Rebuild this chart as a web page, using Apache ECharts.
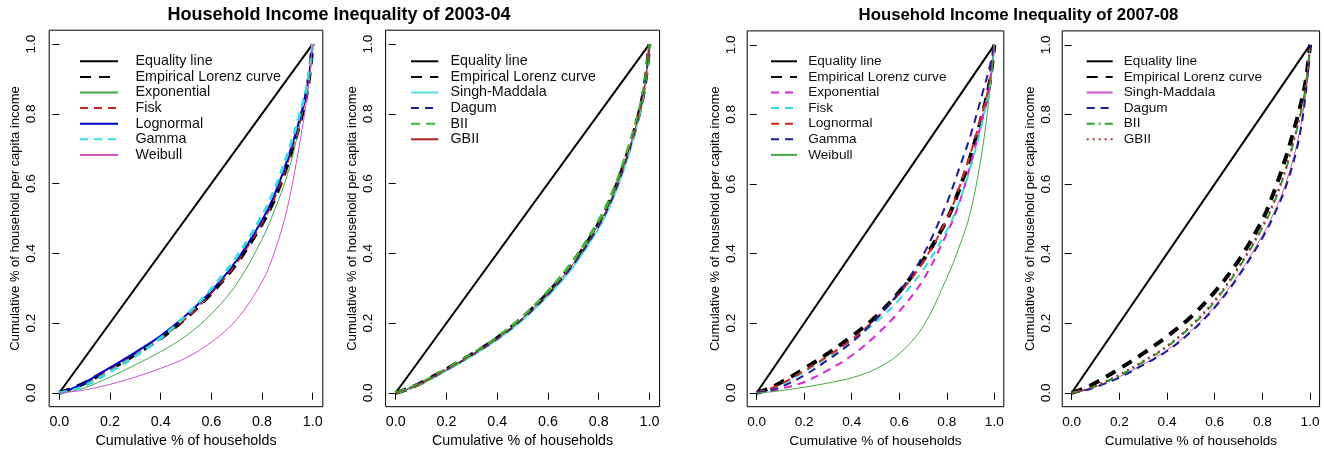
<!DOCTYPE html>
<html><head><meta charset="utf-8">
<script src="https://cdn.jsdelivr.net/npm/echarts@6/dist/echarts.min.js"></script>
<style>html,body{margin:0;padding:0;background:#fff}#c{width:1324px;height:453px}</style>
</head><body><div id="c"></div>
<script>
// ---------- data ----------
const xs = [0, 0.05, 0.1, 0.2, 0.3, 0.4, 0.5, 0.6, 0.7, 0.8, 0.85, 0.9, 0.95, 0.98, 1];
const tickValues = [0, 0.2, 0.4, 0.6, 0.8, 1.0];
const titles = ['Household Income Inequality of 2003-04', 'Household Income Inequality of 2007-08'];
const xTitle = 'Cumulative % of households';
const yTitle = 'Cumulative % of household per capita income';
const equalityX = [0, 1];
const equalityY = [0, 1];

// 2003-04
const empirical0304   = [0, 0.012, 0.028, 0.068, 0.110, 0.157, 0.215, 0.286, 0.372, 0.485, 0.558, 0.655, 0.775, 0.875, 1];
const exponential0304 = [0, 0.005, 0.014, 0.045, 0.080, 0.118, 0.163, 0.226, 0.312, 0.440, 0.525, 0.625, 0.770, 0.885, 1];
const fisk0304        = [0, 0.011, 0.027, 0.067, 0.109, 0.156, 0.214, 0.286, 0.373, 0.487, 0.560, 0.658, 0.778, 0.878, 1];
const lognormal0304   = [0, 0.012, 0.029, 0.072, 0.116, 0.163, 0.222, 0.292, 0.380, 0.495, 0.570, 0.668, 0.788, 0.882, 1];
const gamma0304       = [0, 0.007, 0.020, 0.060, 0.105, 0.157, 0.222, 0.298, 0.390, 0.508, 0.585, 0.683, 0.802, 0.890, 1];
const weibull0304     = [0, 0.003, 0.008, 0.024, 0.045, 0.070, 0.100, 0.145, 0.210, 0.318, 0.405, 0.530, 0.720, 0.860, 1];
const singh0304       = [0, 0.011, 0.026, 0.064, 0.106, 0.152, 0.209, 0.278, 0.362, 0.472, 0.545, 0.642, 0.765, 0.868, 1];
const dagum0304       = [0, 0.011, 0.027, 0.066, 0.108, 0.155, 0.212, 0.282, 0.368, 0.479, 0.552, 0.650, 0.772, 0.872, 1];
const bii0304         = [0, 0.012, 0.028, 0.068, 0.111, 0.159, 0.218, 0.291, 0.380, 0.494, 0.568, 0.665, 0.785, 0.880, 1];
const gbii0304        = [0, 0.011, 0.027, 0.067, 0.109, 0.156, 0.214, 0.285, 0.371, 0.483, 0.556, 0.654, 0.775, 0.874, 1];

// 2007-08
const empirical0708   = [0, 0.012, 0.029, 0.069, 0.113, 0.162, 0.218, 0.290, 0.380, 0.497, 0.580, 0.680, 0.800, 0.890, 1];
const exponential0708 = [0, 0.004, 0.011, 0.031, 0.065, 0.107, 0.164, 0.234, 0.324, 0.457, 0.540, 0.655, 0.790, 0.885, 1];
const fisk0708        = [0, 0.009, 0.022, 0.060, 0.103, 0.150, 0.202, 0.268, 0.353, 0.466, 0.545, 0.648, 0.780, 0.880, 1];
const lognormal0708   = [0, 0.010, 0.025, 0.063, 0.106, 0.153, 0.212, 0.285, 0.376, 0.498, 0.585, 0.688, 0.805, 0.892, 1];
const gamma0708       = [0, 0.006, 0.016, 0.050, 0.095, 0.145, 0.210, 0.290, 0.395, 0.545, 0.640, 0.740, 0.860, 0.935, 1];
const weibull0708     = [0, 0.002, 0.006, 0.016, 0.028, 0.043, 0.068, 0.112, 0.190, 0.330, 0.415, 0.520, 0.700, 0.860, 1];
const singh0708       = [0, 0.006, 0.017, 0.046, 0.082, 0.123, 0.178, 0.249, 0.340, 0.452, 0.520, 0.605, 0.730, 0.855, 1];
const dagum0708       = [0, 0.006, 0.016, 0.044, 0.080, 0.120, 0.175, 0.245, 0.335, 0.445, 0.512, 0.595, 0.718, 0.848, 1];
const bii0708         = [0, 0.007, 0.019, 0.050, 0.089, 0.132, 0.190, 0.262, 0.358, 0.474, 0.548, 0.645, 0.772, 0.872, 1];
const gbii0708        = [0, 0.008, 0.020, 0.052, 0.091, 0.135, 0.193, 0.266, 0.362, 0.479, 0.553, 0.650, 0.776, 0.875, 1];

// ---------- panels ----------
const FONT = '"Liberation Sans", Arial, Helvetica, sans-serif';
const eq = {label: 'Equality line', x: equalityX, y: equalityY, color: '#000', width: 2, dash: 'solid'};
function emp(y) { return {label: 'Empirical Lorenz curve', y: y, color: '#000', width: 4, dash: [11, 8]}; }

const panels = [
  {grid: {left: 49.2, top: 30.2, width: 273.6, height: 381.2}, fs: 14.3, yMargin: 10.5, yGap: 27,
   legend: {left: 79, top: 54.3, w: 38, pad: 12.5},
   lines: [eq, emp(empirical0304),
     {label: 'Exponential', y: exponential0304, color: '#44aa44', width: 1, dash: 'solid'},
     {label: 'Fisk', y: fisk0304, color: '#cc2222', width: 2, dash: [8, 6]},
     {label: 'Lognormal', y: lognormal0304, color: '#0000cc', width: 2, dash: 'solid'},
     {label: 'Gamma', y: gamma0304, color: '#33dddd', width: 3, dash: [8, 6]},
     {label: 'Weibull', y: weibull0304, color: '#cc55cc', width: 1, dash: 'solid'}]},
  {grid: {left: 385.6, top: 30.2, width: 274, height: 381.2}, fs: 14.3, yMargin: 10.5, yGap: 27,
   legend: {left: 410, top: 54.3, w: 27.3, pad: 7.2},
   lines: [eq, emp(empirical0304),
     {label: 'Singh-Maddala', y: singh0304, color: '#55e0e0', width: 2, dash: 'solid'},
     {label: 'Dagum', y: dagum0304, color: '#1c1c8c', width: 2, dash: [8, 6]},
     {label: 'BII', y: bii0304, color: '#33bb33', width: 3, dash: [9, 6]},
     {label: 'GBII', y: gbii0304, color: '#b22222', width: 1, dash: 'solid'}]},
  {grid: {left: 747.2, top: 30.9, width: 256.6, height: 380.9}, fs: 13.6, yMargin: 9, yGap: 25,
   legend: {left: 770, top: 54.3, w: 26, pad: 6.2},
   lines: [eq, emp(empirical0708),
     {label: 'Exponential', y: exponential0708, color: '#dd22dd', width: 2, dash: [8, 6]},
     {label: 'Fisk', y: fisk0708, color: '#33dddd', width: 2, dash: [8, 6]},
     {label: 'Lognormal', y: lognormal0708, color: '#dd2222', width: 2, dash: [8, 6]},
     {label: 'Gamma', y: gamma0708, color: '#1c1c9c', width: 2, dash: [8, 6]},
     {label: 'Weibull', y: weibull0708, color: '#44aa44', width: 1, dash: 'solid'}]},
  {grid: {left: 1062.2, top: 30.9, width: 257.4, height: 380.9}, fs: 13.6, yMargin: 9, yGap: 25,
   legend: {left: 1085.7, top: 54.3, w: 26, pad: 6.1},
   lines: [eq, emp(empirical0708),
     {label: 'Singh-Maddala', y: singh0708, color: '#cc55cc', width: 1, dash: 'solid'},
     {label: 'Dagum', y: dagum0708, color: '#1c1c9c', width: 2, dash: [8, 6]},
     {label: 'BII', y: bii0708, color: '#22aa22', width: 2, dash: [8, 4, 2, 4]},
     {label: 'GBII', y: gbii0708, color: '#aa3333', width: 2, dash: [2, 4]}]}
];

const grid = [], xAxis = [], yAxis = [], series = [], legend = [];
panels.forEach((p, i) => {
  grid.push(Object.assign({show: true, borderColor: '#000', borderWidth: 1, backgroundColor: 'transparent'}, p.grid));
  xAxis.push({type: 'value', gridIndex: i, min: -0.04, max: 1.04,
    axisLine: {show: false}, splitLine: {show: false},
    axisTick: {show: true, customValues: tickValues, length: 7, lineStyle: {color: '#000'}},
    axisLabel: {customValues: tickValues, formatter: v => v.toFixed(1), margin: 8.4,
      fontFamily: FONT, fontSize: p.fs, color: '#000'},
    name: xTitle, nameLocation: 'middle', nameGap: 23.4,
    nameTextStyle: {fontFamily: FONT, fontSize: p.fs, color: '#000'}});
  yAxis.push({type: 'value', gridIndex: i, min: -0.04, max: 1.04,
    axisLine: {show: false}, splitLine: {show: false},
    axisTick: {show: true, customValues: tickValues, length: 7, lineStyle: {color: '#000'}},
    axisLabel: {customValues: tickValues, formatter: v => v.toFixed(1), margin: p.yMargin, rotate: 90,
      fontFamily: FONT, fontSize: 13.5, color: '#000'},
    name: yTitle, nameLocation: 'middle', nameGap: p.yGap, nameRotate: 90,
    nameTextStyle: {fontFamily: FONT, fontSize: 13, color: '#000'}});
  const names = [];
  p.lines.forEach(l => {
    const nm = 'p' + i + '|' + l.label;
    names.push(nm);
    const xv = l.x || xs;
    series.push({type: 'line', name: nm, xAxisIndex: i, yAxisIndex: i,
      data: xv.map((x, k) => [x, l.y[k]]),
      showSymbol: false, symbol: 'none', smooth: 0.35,
      lineStyle: {color: l.color, width: l.width, type: l.dash, cap: 'butt'},
      itemStyle: {color: l.color}, silent: true, animation: false});
  });
  legend.push({data: names, orient: 'vertical', left: p.legend.left, top: p.legend.top,
    padding: 0, itemWidth: p.legend.w, itemHeight: 14, itemGap: 1.6, selectedMode: false,
    formatter: n => n.split('|')[1],
    itemStyle: {color: 'rgba(0,0,0,0)', borderColor: 'rgba(0,0,0,0)', borderWidth: 0, opacity: 0},
    textStyle: {fontFamily: FONT, fontSize: p.fs, color: '#111', lineHeight: 14, padding: [0, 0, 0, p.legend.pad]}});
});

const option = {
  animation: false,
  backgroundColor: '#fff',
  title: [
    {text: titles[0], left: 339, top: 6.5, textAlign: 'center', padding: 0,
     textStyle: {fontFamily: FONT, fontSize: 18, fontWeight: 'bold', color: '#000'}},
    {text: titles[1], left: 1018.5, top: 6.8, textAlign: 'center', padding: 0,
     textStyle: {fontFamily: FONT, fontSize: 16.8, fontWeight: 'bold', color: '#000'}}
  ],
  grid, xAxis, yAxis, series, legend
};
const chart = echarts.init(document.getElementById('c'), null, {renderer: 'canvas'});
chart.setOption(option);
</script></body></html>
